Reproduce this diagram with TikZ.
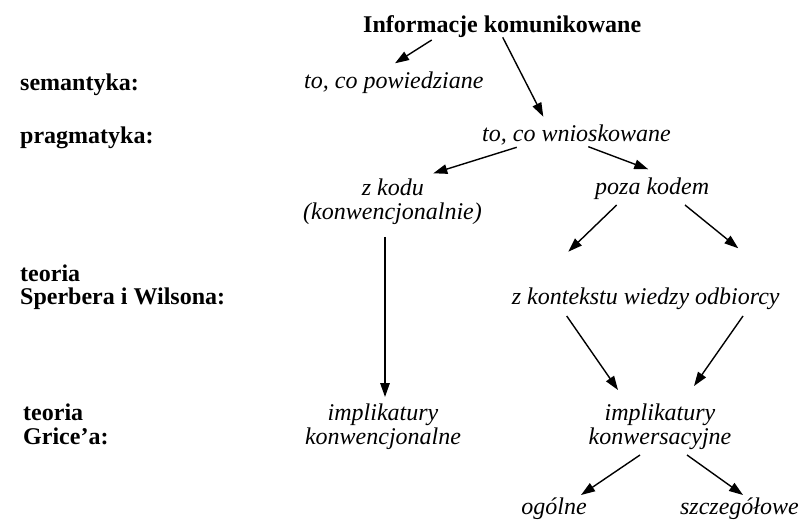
\documentclass[tikz,border=0pt]{standalone}
\usepackage{fontspec}
\setmainfont{Liberation Serif}
\usetikzlibrary{arrows.meta}
\begin{document}
\begin{tikzpicture}[x=1pt,y=-1pt,
  every node/.style={inner sep=0pt, anchor=base},
  lbl/.style={anchor=base west, font=\fontsize{24}{26}\selectfont\bfseries},
  itx/.style={font=\fontsize{24}{26}\selectfont\itshape},
  itw/.style={itx, anchor=base west},
  arr/.style={line width=1.4pt, -{Triangle[length=14pt,width=9.5pt]}}]
\useasboundingbox (0,0) rectangle (800,529);
% left labels
\node[lbl] (sem) at (20,91) {semantyka:};
\node[lbl] (prag) at (20,144) {pragmatyka:};
\node[lbl] (teo1) at (20,281) {teoria};
\node[lbl] (sperb) at (20,305) {Sperbera i Wilsona:};
\node[lbl] (teo2) at (23,420) {teoria};
\node[lbl] (grice) at (23,444) {Grice'a:};
% diagram nodes
\node[lbl] (title) at (363,33) {Informacje komunikowane};
\node[itw] (powied) at (304,89) {to, co powiedziane};
\node[itw] (wniosk) at (482,142) {to, co wnioskowane};
\node[itw] (zkodu1) at (361.7,196) {z kodu};
\node[itw] (zkodu2) at (303,220) {(konwencjonalnie)};
\node[itw] (poza) at (595,195) {poza kodem};
\node[itw] (kontekst) at (511.7,305) {z kontekstu wiedzy odbiorcy};
\node[itx] (implL1) at (383,420) {implikatury};
\node[itx] (implL2) at (383,444) {konwencjonalne};
\node[itx] (implR1) at (660,420) {implikatury};
\node[itx] (implR2) at (660,444) {konwersacyjne};
\node[itx] (ogolne) at (554,514) {ogólne};
\node[itx, anchor=base east] (szczeg) at (799,514) {szczegółowe};
% connectors
\draw[arr] ([shift={(68.7,7)}]title.base west) -- ([shift={(91,-25.7)}]powied.base west);
\draw[arr] ([shift={(139.7,4.3)}]title.base west) -- ([shift={(61.3,-25.3)}]wniosk.base west);
\draw[arr] ([shift={(34.7,5.3)}]wniosk.base west) -- ([shift={(71.6,-22.7)}]zkodu1.base west);
\draw[arr] ([shift={(106.3,4.7)}]wniosk.base west) -- ([shift={(53.3,-25.7)}]poza.base west);
\draw[arr] ([shift={(82,17)}]zkodu2.base west) -- ([shift={(2,-23)}]implL1.base);
\draw[arr] ([shift={(21.7,10)}]poza.base west) -- ([shift={(56.6,-53.3)}]kontekst.base west);
\draw[arr] ([shift={(90,10)}]poza.base west) -- ([shift={(226.6,-56.7)}]kontekst.base west);
\draw[arr] ([shift={(55,11)}]kontekst.base west) -- ([shift={(-42,-30)}]implR1.base);
\draw[arr] ([shift={(231.3,11)}]kontekst.base west) -- ([shift={(34,-34)}]implR1.base);
\draw[arr] ([shift={(-20,11)}]implR2.base) -- ([shift={(27,-19)}]ogolne.base);
\draw[arr] ([shift={(27,11)}]implR2.base) -- ([shift={(-56,-19)}]szczeg.base east);
\end{tikzpicture}
\end{document}
